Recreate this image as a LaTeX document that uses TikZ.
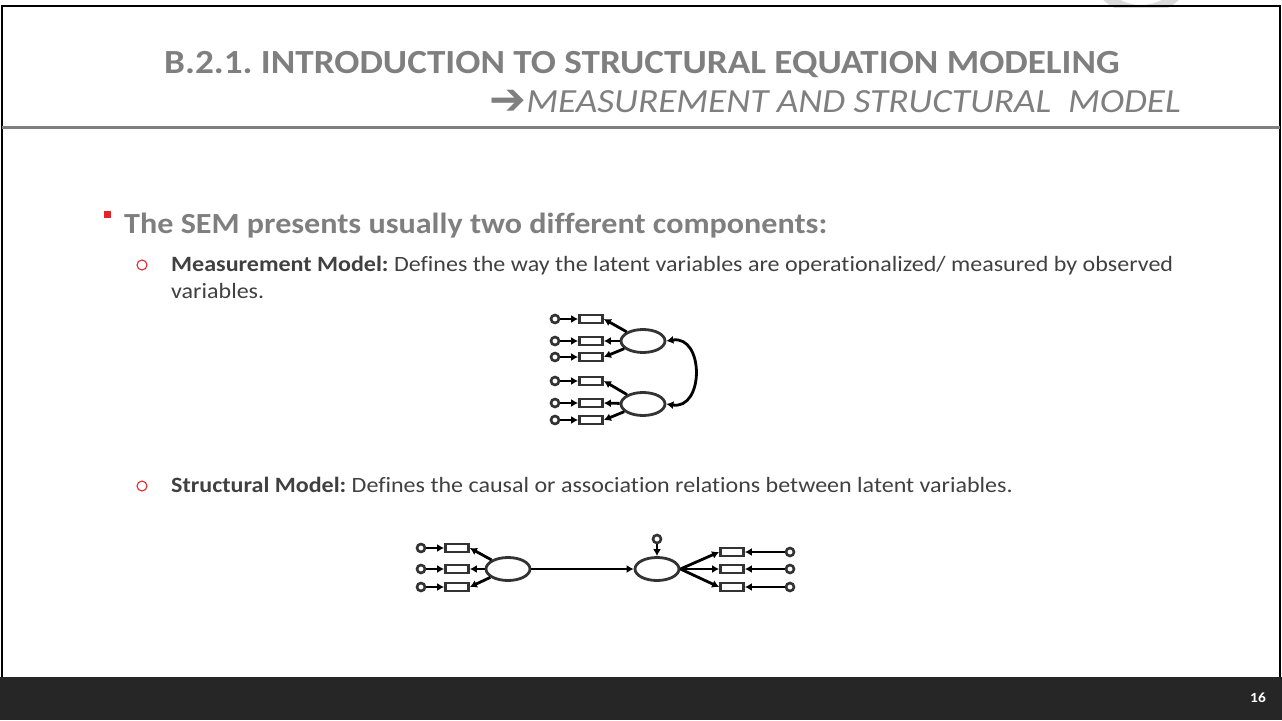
\documentclass[tikz,border=0pt]{standalone}
\usepackage{fontspec}
\setmainfont[FakeStretch=1.1, Ligatures=NoCommon]{Carlito}
\newfontfamily\symfont{DejaVu Sans}
\usetikzlibrary{arrows.meta,positioning,shapes.geometric}
\definecolor{titlegray}{HTML}{7F7F7F}
\definecolor{textgray}{HTML}{404040}
\definecolor{bulletred}{HTML}{E2252B}
\definecolor{footdark}{HTML}{262626}
\definecolor{markgray}{HTML}{DADADA}
\definecolor{boxgray}{HTML}{333333}
\frenchspacing

\begin{document}
\begin{tikzpicture}[x=1pt, y=-1pt,
  obsbox/.style={draw=boxgray, line width=2.8pt, minimum width=23pt,
                 minimum height=8pt, inner sep=0pt},
  latent/.style={ellipse, draw=boxgray, line width=2.8pt, minimum width=44pt,
                 minimum height=23pt, inner sep=0pt},
  errc/.style={circle, draw=boxgray, line width=2.6pt, minimum size=8pt,
               inner sep=0pt},
  arr/.style={-{Latex[length=7pt,width=8pt]}, line width=2.8pt},
  bodytext/.style={anchor=base west, text=textgray, inner sep=0pt,
                   font=\fontsize{21.85}{26}\selectfont}]
\useasboundingbox (0,0) rectangle (1282,720);
\begin{scope}
  \clip (1080,0) rectangle (1200,7);
  \draw[markgray, line width=10pt] (1141,-40) circle (50);
\end{scope}
\fill[footdark] (0,677) rectangle (1282,720);
\draw[line width=2pt] (2,677) -- (2,6) -- (1280,6) -- (1280,677);
\draw[titlegray, line width=3pt] (2,127) -- (1280,127);
\node[anchor=base, text=titlegray, inner sep=0pt,
  font=\fontsize{33.8}{38}\selectfont\bfseries] (title) at (642,73)
  {B.2.1. INTRODUCTION TO STRUCTURAL EQUATION MODELING};
\node[anchor=base east, text=titlegray, inner sep=0pt,
  font=\fontsize{33.8}{38}\selectfont] (subtitle) at (1181,112)
  {{\symfont\fontsize{44}{44}\selectfont\raisebox{-2pt}{➔}}\textit{MEASUREMENT AND STRUCTURAL\ \ MODEL}};
\node[text=white, inner sep=0pt,
  font=\fontsize{14}{16}\selectfont\bfseries] (pagenum) at (1258,698) {16};
\fill[bulletred] (104,211) rectangle (111,218);
\node[anchor=base west, text=titlegray, inner sep=0pt,
  font=\fontsize{29.2}{34}\selectfont\bfseries] (lead) at (124,233)
  {The SEM presents usually two different components:};
\draw[bulletred, line width=1.1pt] (142,265) circle (5);
\node[bodytext] (meas) at (171,271)
  {\textbf{Measurement Model:} Defines the way the latent variables are operationalized/ measured by observed};
\node[bodytext] (meas2) at (171,298) {variables.};
\draw[bulletred, line width=1.1pt] (142,486) circle (5);
\node[bodytext] (struc) at (171,492)
  {\textbf{Structural Model:} Defines the causal or association relations between latent variables.};
\node[errc] (e1) at (555,319) {};
\node[errc] (e2) at (555,341) {};
\node[errc] (e3) at (555,357) {};
\node[errc] (e4) at (555,381) {};
\node[errc] (e5) at (555,403) {};
\node[errc] (e6) at (555,420) {};
\node[obsbox] (m1) at (591,319) {};
\node[obsbox] (m2) at (591,341) {};
\node[obsbox] (m3) at (591,357) {};
\node[obsbox] (m4) at (591,381) {};
\node[obsbox] (m5) at (591,403) {};
\node[obsbox] (m6) at (591,420) {};
\node[latent] (la) at (643,341) {};
\node[latent] (lb) at (643,404) {};
\draw[arr] (e1) -- (m1);
\draw[arr] (e2) -- (m2);
\draw[arr] (e3) -- (m3);
\draw[arr] (e4) -- (m4);
\draw[arr] (e5) -- (m5);
\draw[arr] (e6) -- (m6);
\draw[arr] (la) -- (m1.east);
\draw[arr] (la) -- (m2.east);
\draw[arr] (la) -- (m3.east);
\draw[arr] (lb) -- (m4.east);
\draw[arr] (lb) -- (m5.east);
\draw[arr] (lb) -- (m6.east);
\draw[arr, {Latex[length=7pt,width=8pt]}-{Latex[length=7pt,width=8pt]}]
  (la.east) .. controls +(38,-6) and +(38,6) .. (lb.east);
\node[errc] (sx1) at (421,548) {};
\node[errc] (sx2) at (421,569) {};
\node[errc] (sx3) at (421,587) {};
\node[obsbox] (x1) at (457,548) {};
\node[obsbox] (x2) at (457,569) {};
\node[obsbox] (x3) at (457,587) {};
\node[latent] (ksi) at (508,569) {};
\node[latent] (eta) at (657,569) {};
\node[errc] (zeta) at (657,539) {};
\node[obsbox] (y1) at (732,552) {};
\node[obsbox] (y2) at (732,569) {};
\node[obsbox] (y3) at (732,587) {};
\node[errc] (sy1) at (790,552) {};
\node[errc] (sy2) at (790,569) {};
\node[errc] (sy3) at (790,587) {};
\draw[arr] (sx1) -- (x1);
\draw[arr] (sx2) -- (x2);
\draw[arr] (sx3) -- (x3);
\draw[arr] (ksi) -- (x1.east);
\draw[arr] (ksi) -- (x2.east);
\draw[arr] (ksi) -- (x3.east);
\draw[arr] (ksi) -- (eta);
\draw[arr] (zeta) -- (eta);
\draw[arr] (eta.east) -- (y1.west);
\draw[arr] (eta.east) -- (y2.west);
\draw[arr] (eta.east) -- (y3.west);
\draw[arr] (sy1) -- (y1);
\draw[arr] (sy2) -- (y2);
\draw[arr] (sy3) -- (y3);
\end{tikzpicture}
\end{document}
